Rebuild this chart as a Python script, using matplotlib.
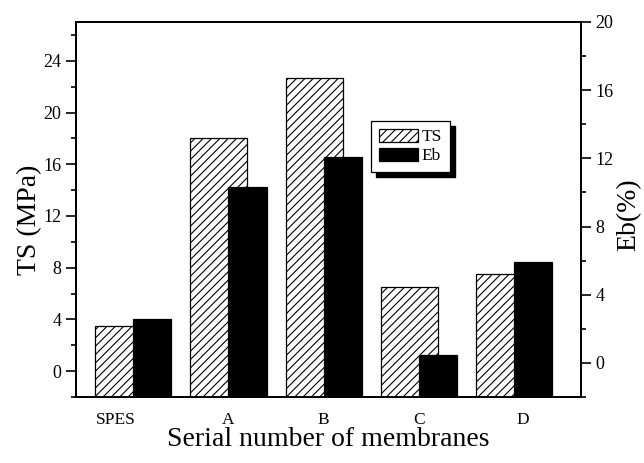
import numpy as np
import matplotlib
matplotlib.use('Agg')
import matplotlib.pyplot as plt
from matplotlib.patches import Rectangle
from matplotlib.transforms import IdentityTransform, ScaledTranslation
from matplotlib.ticker import MultipleLocator

# %% data
membranes = ['SPES', 'A', 'B', 'C', 'D']
ts = [3.5, 18.0, 22.7, 6.5, 7.5]      # TS (MPa), left axis
eb = [2.55, 10.3, 12.1, 0.45, 5.95]   # Eb (%), right axis

plt.rcParams['font.family'] = ['Liberation Serif', 'DejaVu Serif']
plt.rcParams['hatch.linewidth'] = 0.8

fig = plt.figure(figsize=(6.44, 4.63), dpi=100)
ax = fig.add_axes([0.118, 0.1425, 0.784, 0.81])
ax2 = ax.twinx()

x = np.arange(len(membranes))

# bars start from the bottom of the axes (-2 on both scales)
# TS bar is wider, the Eb bar sits on its right part
b1 = ax.bar(x - 0.4, np.array(ts) + 2, width=0.6, align='edge', bottom=-2,
            facecolor='white', edgecolor='black', linewidth=0.9, hatch='////')
b2 = ax2.bar(x, np.array(eb) + 2, width=0.4, align='edge', bottom=-2,
             color='black', edgecolor='black', linewidth=0.9)

ax.set_xlim(-0.6, 4.7)
ax.set_ylim(-2, 27)
ax2.set_ylim(-2, 20)

ax.yaxis.set_minor_locator(MultipleLocator(2))
ax2.yaxis.set_minor_locator(MultipleLocator(2))
ax.set_yticks(np.arange(0, 25, 4))
ax2.set_yticks(np.arange(0, 21, 4))

ax.set_xticks(x)
ax.set_xticklabels(membranes, fontsize=12.5)
ax.tick_params(axis='x', length=0, pad=11)
ax.tick_params(axis='y', which='major', direction='out', length=7, width=1.2, labelsize=13)
ax.tick_params(axis='y', which='minor', direction='out', length=3.5, width=1.2)
ax2.tick_params(axis='y', which='major', direction='out', length=7, width=1.2, labelsize=13)
ax2.tick_params(axis='y', which='minor', direction='out', length=3.5, width=1.2)

# SPES and D labels are a bit off the bar joint in the original
lbls = ax.get_xticklabels()
lbls[0].set_transform(lbls[0].get_transform() + ScaledTranslation(-0.17, 0, fig.dpi_scale_trans))
lbls[4].set_transform(lbls[4].get_transform() + ScaledTranslation(0.09, 0, fig.dpi_scale_trans))

for a in (ax, ax2):
    for s in a.spines.values():
        s.set_linewidth(1.4)

ax.set_ylabel('TS (MPa)', fontsize=20)
ax2.set_ylabel('Eb(%)', fontsize=20)
ax.set_xlabel('Serial number of membranes', fontsize=20, labelpad=-1)
ax.yaxis.set_label_coords(-0.067, 0.472)
ax2.yaxis.set_label_coords(1.071, 0.485)

leg = ax2.legend([b1, b2], ['TS', 'Eb'], loc='upper left',
                 bbox_to_anchor=(371 / 644, 1 - 121 / 463), bbox_transform=fig.transFigure,
                 borderaxespad=0, fontsize=12.5, handlelength=2.25, handleheight=0.75,
                 labelspacing=0.15, borderpad=0.45, handletextpad=0.2,
                 fancybox=False, framealpha=1, edgecolor='black')
leg.get_frame().set_linewidth(0.9)
leg.set_zorder(10)

# black drop shadow behind the legend box
fig.canvas.draw()
bb = leg.get_window_extent()
ax2.add_patch(Rectangle((bb.x0 + 5, bb.y0 - 5), bb.width, bb.height,
                        transform=IdentityTransform(), facecolor='black',
                        edgecolor='black', zorder=9, clip_on=False))

fig.savefig('out.png', dpi=100)
